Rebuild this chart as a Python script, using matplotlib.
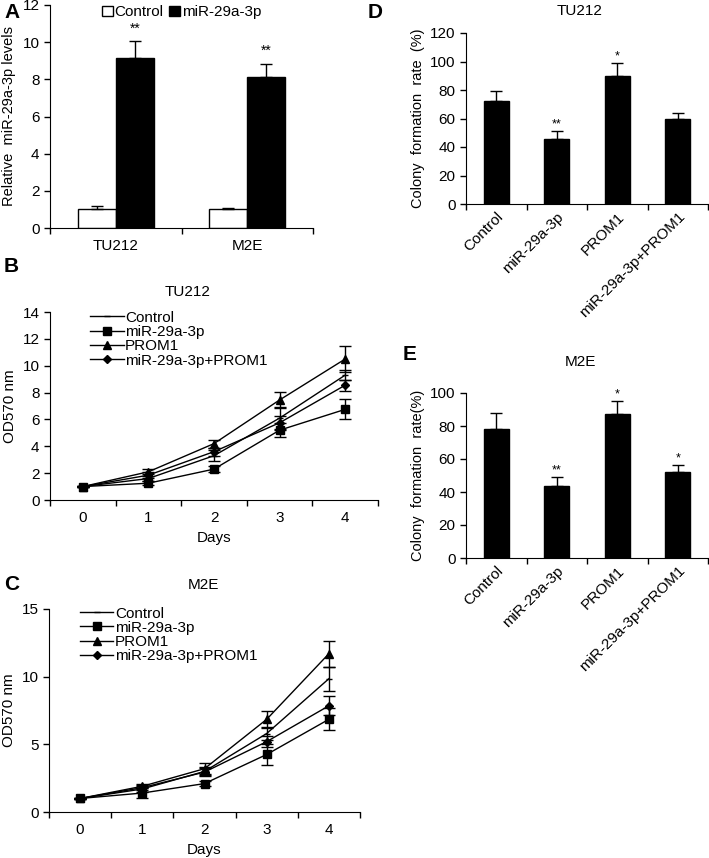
import numpy as np
import matplotlib
matplotlib.use("Agg")
import matplotlib.pyplot as plt
from matplotlib.patches import Patch
from matplotlib.lines import Line2D

plt.rcParams['font.family'] = ['Liberation Sans', 'DejaVu Sans']

# Panel A
cells = ["TU212", "M2E"]
a_control = [1.0, 1.0]
a_control_err = [0.2, 0.05]
a_mir = [9.15, 8.1]
a_mir_err = [0.9, 0.75]

# Panels B/C
days = [0, 1, 2, 3, 4]
series_names = ["Control", "miR-29a-3p", "PROM1", "miR-29a-3p+PROM1"]
b_vals = [[1.0, 1.6, 3.3, 6.1, 9.3],
          [1.0, 1.25, 2.3, 5.2, 6.75],
          [1.0, 2.1, 4.2, 7.45, 10.5],
          [1.0, 1.85, 3.6, 5.75, 8.55]]
b_errs = [[0.05, 0.2, 0.4, 0.8, 0.4],
          [0.05, 0.15, 0.2, 0.5, 0.75],
          [0.05, 0.2, 0.3, 0.6, 1.0],
          [0.05, 0.2, 0.3, 0.5, 0.4]]
c_vals = [[1.0, 1.7, 3.0, 5.8, 9.85],
          [1.0, 1.4, 2.1, 4.25, 6.85],
          [1.0, 1.9, 3.2, 6.85, 11.7],
          [1.0, 1.8, 2.95, 5.2, 7.85]]
c_errs = [[0.05, 0.2, 0.3, 0.5, 0.9],
          [0.05, 0.4, 0.2, 0.8, 0.8],
          [0.05, 0.15, 0.4, 0.65, 0.95],
          [0.05, 0.2, 0.3, 0.4, 0.7]]

# Panels D/E
groups = ["Control", "miR-29a-3p", "PROM1", "miR-29a-3p+PROM1"]
d_vals = [72, 45.5, 90, 59.5]
d_errs = [7.5, 5.5, 9, 4.5]
d_stars = ["", "**", "*", ""]
e_vals = [78, 43.5, 87, 52]
e_errs = [10, 5.5, 8, 4.5]
e_stars = ["", "**", "*", "*"]

W, H = 709, 858
fig = plt.figure(figsize=(W / 100, H / 100), dpi=100)


def ax_px(l, r, t, b):
    return fig.add_axes([l / W, 1 - b / H, (r - l) / W, (b - t) / H])


def style(ax):
    for s in ("top", "right"):
        ax.spines[s].set_visible(False)
    ax.tick_params(direction="out", length=4, width=1, labelsize=11)


def cat_xaxis(ax, n, labels, rot=0, fs=11):
    ax.set_xlim(-0.5, n - 0.5)
    ax.set_xticks(np.arange(-0.5, n, 1.0))
    ax.set_xticklabels([])
    ax.set_xticks(np.arange(n), minor=True)
    if rot:
        ax.set_xticklabels(labels, minor=True, rotation=rot, ha="right",
                           rotation_mode="anchor", fontsize=fs)
    else:
        ax.set_xticklabels(labels, minor=True, fontsize=fs)
    ax.tick_params(axis="x", which="minor", length=0, pad=8)


# ---- A
ax = ax_px(50, 313, 5, 228)
style(ax)
x = np.arange(len(cells))
bw = 0.29
ax.bar(x - bw / 2, a_control, bw, color="white", edgecolor="black", lw=1,
       yerr=[np.zeros(2), a_control_err], capsize=4, error_kw=dict(lw=1, capthick=1))
ax.bar(x + bw / 2, a_mir, bw, color="black", edgecolor="black", lw=1,
       yerr=[np.zeros(2), a_mir_err], capsize=4, error_kw=dict(lw=1, capthick=1))
for xi, v, e in zip(x, a_mir, a_mir_err):
    ax.text(xi + bw / 2, v + e + 0.3, "**", ha="center", va="bottom", fontsize=10)
ax.set_ylim(0, 12)
ax.set_yticks(range(0, 13, 2))
cat_xaxis(ax, 2, cells)
ax.set_ylabel("Relative  miR-29a-3p levels", fontsize=10.5, labelpad=5)
ax.legend(handles=[Patch(facecolor="white", edgecolor="black", label="Control"),
                   Patch(facecolor="black", edgecolor="black", label="miR-29a-3p")],
          ncol=2, loc="upper center", bbox_to_anchor=(0.5, 1.06), frameon=False,
          fontsize=11, handlelength=0.7, handleheight=0.7, handletextpad=0.1,
          columnspacing=0.4)

markers = ["_", "s", "^", "D"]
msizes = [5, 6, 6, 4]


def line_panel(ax, vals, errs, legx):
    style(ax)
    for v, e, m, ms, nm in zip(vals, errs, markers, msizes, series_names):
        ax.errorbar(days, v, yerr=e, color="black", lw=1, marker=m, ms=ms,
                    capsize=4, capthick=1, elinewidth=1, label=nm)
    cat_xaxis(ax, len(days), [str(d) for d in days])
    ax.set_xlabel("Days", fontsize=11)
    ax.set_ylabel("OD570 nm", fontsize=11)
    handles = [Line2D([], [], color="black", lw=1, marker=m, ms=ms)
               for m, ms in zip(markers, msizes)]
    ax.legend(handles, series_names, loc="upper left", bbox_to_anchor=(legx, 1.08),
              frameon=False, fontsize=11, handlelength=2.2, handletextpad=0.1,
              labelspacing=0.02)


# ---- B
ax = ax_px(50, 378, 312, 500)
line_panel(ax, b_vals, b_errs, 0.08)
ax.set_ylim(0, 14)
ax.set_yticks(range(0, 15, 2))

# ---- C
ax = ax_px(49, 360, 609, 812)
line_panel(ax, c_vals, c_errs, 0.055)
ax.set_ylim(0, 15)
ax.set_yticks(range(0, 16, 5))


def colony_panel(ax, vals, errs, stars, ylim, ylabel):
    style(ax)
    xx = np.arange(len(groups))
    ax.bar(xx, vals, 0.41, color="black", edgecolor="black",
           yerr=[np.zeros(len(vals)), errs], capsize=4,
           error_kw=dict(lw=1, capthick=1, ecolor="black"))
    for xi, v, e, s in zip(xx, vals, errs, stars):
        if s:
            ax.text(xi, v + e + ylim * 0.005, s, ha="center", va="bottom", fontsize=9)
    ax.set_ylim(0, ylim)
    ax.set_yticks(range(0, ylim + 1, 20))
    cat_xaxis(ax, len(groups), groups, rot=45, fs=11)
    ax.tick_params(axis="x", which="minor", pad=4)
    ax.set_ylabel(ylabel, fontsize=10.5, labelpad=4)


# ---- D
ax = ax_px(466, 708, 33, 204)
colony_panel(ax, d_vals, d_errs, d_stars, 120, "Colony  formation  rate  (%)")

# ---- E
ax = ax_px(466, 708, 393, 558)
colony_panel(ax, e_vals, e_errs, e_stars, 100, "Colony  formation  rate(%)")

# titles and panel letters
def ftext(px, py, s, **kw):
    fig.text(px / W, 1 - py / H, s, va="center", **kw)

ftext(4, 12, "A", fontsize=15, fontweight="bold")
ftext(4, 267, "B", fontsize=15, fontweight="bold")
ftext(4, 585, "C", fontsize=15, fontweight="bold")
ftext(368, 12, "D", fontsize=15, fontweight="bold")
ftext(403, 355, "E", fontsize=15, fontweight="bold")
ftext(188, 292, "TU212", fontsize=11, ha="center")
ftext(203, 585, "M2E", fontsize=11, ha="center")
ftext(580, 11, "TU212", fontsize=11, ha="center")
ftext(580, 362, "M2E", fontsize=11, ha="center")

fig.savefig("out.png", dpi=100)
